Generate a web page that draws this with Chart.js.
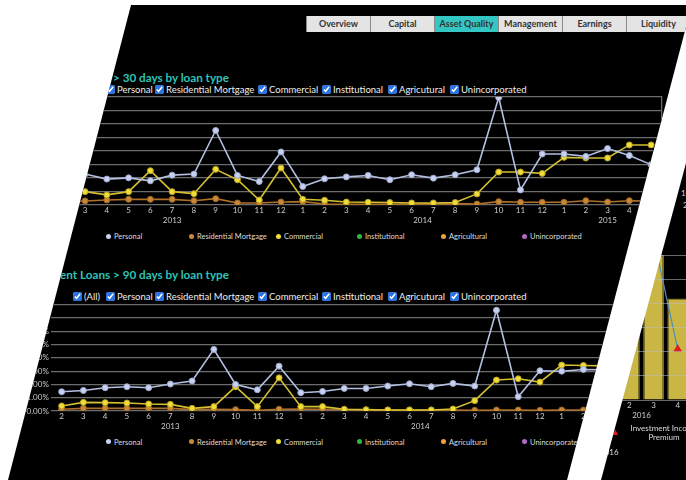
<!DOCTYPE html>
<html>
<head>
<meta charset="utf-8">
<script src="https://cdn.jsdelivr.net/npm/chart.js@4.4.1/dist/chart.umd.min.js"></script>
<style>
  body { margin:0; width:686px; height:480px; overflow:hidden; background:#fff; position:relative; font-family:Lato, 'Open Sans', sans-serif; }
  .panel { position:absolute; left:0; top:0; width:686px; height:480px; background:#000; overflow:hidden; }
  #main { clip-path:polygon(131px 5px, 686px 5px, 686px 27px, 567px 480px, 8px 480px); }
  #side { clip-path:polygon(686px 163px, 686px 480px, 601px 480px); }
  .tabs { position:absolute; left:306px; top:16px; height:16px; display:flex; }
  .tab { width:63px; height:16px; background:#e4e4e4; border-left:1px solid #8a8a8a; color:#333; font-size:9px; font-weight:bold; line-height:16px; text-align:center; }
  .tab.on { background:#33c6c2; }
  .title { position:absolute; right:457px; color:#2ec4b8; font-weight:bold; font-size:11.7px; line-height:12px; white-space:nowrap; }
  .chk { position:absolute; color:#eee; font-size:9.5px; line-height:11px; white-space:nowrap; display:flex; align-items:center; }
  .chk input { width:9px; height:9px; margin:0 2px 0 0; accent-color:#2a73e0; }
  .leg { position:absolute; color:#ddd; font-size:7.5px; line-height:9px; white-space:nowrap; }
  .leg i { display:inline-block; width:5px; height:5px; border-radius:50%; margin-right:3px; vertical-align:middle; position:relative; top:-1px; }
  .txt { position:absolute; color:#ddd; font-size:8px; line-height:9px; white-space:nowrap; }
  canvas { position:absolute; }
</style>
</head>
<body>
<div id="main" class="panel">
  <div class="tabs">
    <div class="tab">Overview</div><div class="tab">Capital</div><div class="tab on">Asset Quality</div><div class="tab">Management</div><div class="tab">Earnings</div><div class="tab">Liquidity</div>
  </div>
  <div class="title" style="top:71px">Delinquent Loans &gt; 30 days by loan type</div>
  <div id="filters30"></div>
  <canvas id="chart30" width="686" height="140" style="left:0;top:90px"></canvas>
  <div id="legend30"></div>

  <div class="title" style="top:268px">Delinquent Loans &gt; 90 days by loan type</div>
  <div id="filters90"></div>
  <canvas id="chart90" width="686" height="140" style="left:0;top:298px"></canvas>
  <div id="legend90"></div>
</div>

<div id="side" class="panel">
  <div class="txt" style="left:681px;top:189px">10</div>
  <div class="txt" style="left:683px;top:201px">2015</div>
  <canvas id="chartSide" width="107" height="185" style="left:588px;top:245px"></canvas>
  <div class="txt" style="left:611px;top:427px;color:#e01e1e;font-size:9px">&#9650;</div>
  <div class="txt" style="left:624px;top:424px;width:80px;text-align:center">Investment Income<br>Premium</div>
  <div class="txt" style="left:600px;top:448px">2016</div>
</div>

<script>
// months shown on both loan charts (Feb 2013 - May 2015)
const months = ['2','3','4','5','6','7','8','9','10','11','12',
                '1','2','3','4','5','6','7','8','9','10','11','12',
                '1','2','3','4','5'];
const years = ['2013', '2014', '2015'];

const seriesNames = ['Personal', 'Residential Mortgage', 'Commercial', 'Institutional', 'Agricultural', 'Unincorporated'];
const seriesColors = ['#c8d2f0', '#c8883a', '#f0dc3a', '#2fb84a', '#f0a03c', '#b468c8'];
const filterNames = ['(All)', 'Personal', 'Residential Mortgage', 'Commercial', 'Institutional', 'Agricutural', 'Unincorporated'];

// > 30 days (%)
const personal30 = [2.3, 2.29, 1.92, 2.01, 1.79, 2.21, 2.29, 5.52, 2.19, 1.74, 3.93,
                    1.37, 1.94, 2.08, 2.19, 1.87, 2.24, 1.99, 2.24, 2.61, 7.96, 1.12, 3.78,
                    3.78, 3.6, 4.18, 3.66, 2.99];
const mortgage30 = [0.3, 0.3, 0.37, 0.42, 0.42, 0.42, 0.32, 0.47, 0.15, 0.15, 0.22,
                    0.25, 0.07, 0.05, 0.05, 0.06, 0.06, 0.08, 0.1, 0.07, 0.25, 0.2, 0.2,
                    0.2, 0.32, 0.22, 0.32, 0.3];
const commercial30 = [1.0, 0.99, 0.75, 0.99, 2.54, 0.99, 0.84, 2.64, 1.87, 0.37, 2.74,
                      0.42, 0.35, 0.22, 0.2, 0.18, 0.15, 0.15, 0.18, 0.82, 2.44, 2.44, 2.34,
                      3.53, 3.48, 3.48, 4.45, 4.45];

// > 90 days (%)
const personal90 = [1.45, 1.55, 1.75, 1.83, 1.75, 2.03, 2.26, 4.64, 2.0, 1.6, 3.38,
                    1.38, 1.47, 1.7, 1.7, 1.88, 2.05, 1.83, 2.08, 1.88, 7.59, 1.08, 3.03,
                    3.0, 3.13, 3.1, null, null];
const mortgage90 = [0.13, 0.2, 0.2, 0.2, 0.2, 0.2, 0.1, 0.13, 0.1, 0.05, 0.13,
                    0.15, 0.13, 0.1, 0.07, 0.07, 0.07, 0.07, 0.07, 0.05, 0.07, 0.08, 0.05,
                    0.07, 0.07, 0.07, null, null];
const commercial90 = [0.38, 0.65, 0.63, 0.6, 0.53, 0.5, 0.2, 0.33, 1.83, 0.33, 2.5,
                      0.33, 0.33, 0.13, 0.1, 0.08, 0.08, 0.08, 0.15, 0.78, 2.33, 2.43, 2.18,
                      3.46, 3.43, 3.4, null, null];

// side chart (2016)
const sideMonths = ['1', '2', '3', '4'];
const sideYears = ['2016'];
const premium = [null, 5.5, 6.0, 4.2];
const investmentIncome = [null, null, 6.7, 2.1];

// layout only
const filterX = [73, 106, 155, 258, 322, 388, 450];
const legendX = [106, 189, 276, 357, 441, 522];

Chart.defaults.font.family = "Lato, 'Open Sans', sans-serif";

function groupCenters(labels) {
  const centers = [];
  let start = 0;
  labels.forEach((m, i) => {
    if (i > 0 && m === '1') { centers.push((start + i - 1) / 2); start = i; }
  });
  centers.push((start + labels.length - 1) / 2);
  return centers;
}

function yearAxis(labels, names) {
  const centers = groupCenters(labels);
  return {
    type: 'linear', position: 'bottom', weight: 1,
    min: -0.5, max: labels.length - 0.5,
    grid: { display: false, drawTicks: false }, border: { display: false },
    afterBuildTicks: s => { s.ticks = centers.map(v => ({ value: v })); },
    afterFit: s => { s.height = 12; },
    ticks: { autoSkip: false, maxRotation: 0, color: '#ccc', font: { size: 8 }, padding: 0,
             callback: (v, i) => names[i] }
  };
}

function monthAxis() {
  return {
    type: 'category', position: 'bottom', weight: 0, offset: true,
    grid: { display: false, drawTicks: false }, border: { display: false },
    afterFit: s => { s.height = 11; },
    ticks: { autoSkip: false, maxRotation: 0, color: '#ccc', font: { size: 8 }, padding: 1 }
  };
}

function series(i, data) {
  const edge = ['#9aa6cc', '#9a6420', '#b8a020'][i] || seriesColors[i];
  const line = ['#b4c0e2', '#b07028', '#d4c030'][i] || seriesColors[i];
  return {
    label: seriesNames[i], data,
    borderColor: line, backgroundColor: seriesColors[i],
    pointBackgroundColor: seriesColors[i], pointBorderColor: edge,
    pointRadius: 3, pointBorderWidth: 1, borderWidth: 1.6
  };
}

function loanChart(id, personal, mortgage, commercial, pad, yWidth) {
  new Chart(document.getElementById(id), {
    type: 'line',
    data: {
      labels: months,
      datasets: [series(0, personal), series(2, commercial), series(1, mortgage),
                 series(3, []), series(4, []), series(5, [])]
    },
    options: {
      responsive: false, animation: false,
      layout: { padding: pad },
      plugins: { legend: { display: false }, tooltip: { enabled: false } },
      scales: {
        x: monthAxis(),
        x2: yearAxis(months, years),
        y: {
          min: 0, max: 8,
          afterFit: s => { s.width = yWidth; },
          grid: { color: '#6c6c6c', lineWidth: 1.3, drawTicks: false },
          border: { display: false },
          ticks: { stepSize: 1, color: '#ccc', font: { size: 8 }, padding: 2,
                   callback: v => v.toFixed(2) + '%' }
        },
        yR: {
          position: 'right', afterFit: s => { s.width = 0; },
          grid: { display: false, drawTicks: false }, ticks: { display: false },
          border: { color: '#6c6c6c', width: 1.3 }
        }
      }
    }
  });
}

function filters(id, top) {
  document.getElementById(id).innerHTML = filterNames.map((n, i) =>
    `<label class="chk" style="left:${filterX[i]}px;top:${top}px"><input type="checkbox" checked>${n}</label>`).join('');
}

function legend(id, top) {
  document.getElementById(id).innerHTML = seriesNames.map((n, i) =>
    `<div class="leg" style="left:${legendX[i]}px;top:${top}px"><i style="background:${seriesColors[i]}"></i>${n}</div>`).join('');
}

filters('filters30', 83.5);
loanChart('chart30', personal30, mortgage30, commercial30, { top: 7, right: 24, bottom: 2, left: 0 }, 52.4);
legend('legend30', 232);

filters('filters90', 290.5);
loanChart('chart90', personal90, mortgage90, commercial90, { top: 6.3, right: 26.5, bottom: 4, left: 0 }, 50.8);
legend('legend90', 437.5);

new Chart(document.getElementById('chartSide'), {
  type: 'bar',
  data: {
    labels: sideMonths,
    datasets: [
      { type: 'line', label: 'Investment Income', data: investmentIncome, clip: false,
        borderColor: '#4f8fb8', borderWidth: 1.2, pointStyle: 'triangle', pointRadius: 4,
        pointBackgroundColor: '#e01e1e', pointBorderColor: '#e01e1e' },
      { label: 'Premium', data: premium, backgroundColor: '#c9b645', borderColor: '#857628',
        borderWidth: 1.5, barPercentage: 0.86, categoryPercentage: 1 }
    ]
  },
  options: {
    responsive: false, animation: false,
    layout: { padding: { top: 10, right: 0, bottom: 7, left: 0 } },
    plugins: { legend: { display: false }, tooltip: { enabled: false } },
    scales: {
      x: monthAxis(),
      x2: yearAxis(sideMonths, sideYears),
      y: {
        min: 0, max: 6,
        afterFit: s => { s.width = 0; },
        grid: { color: 'rgba(190,190,190,0.55)', lineWidth: 1, drawTicks: false, z: 1 },
        border: { display: false },
        ticks: { display: false, stepSize: 1 }
      }
    }
  }
});
</script>
</body>
</html>
